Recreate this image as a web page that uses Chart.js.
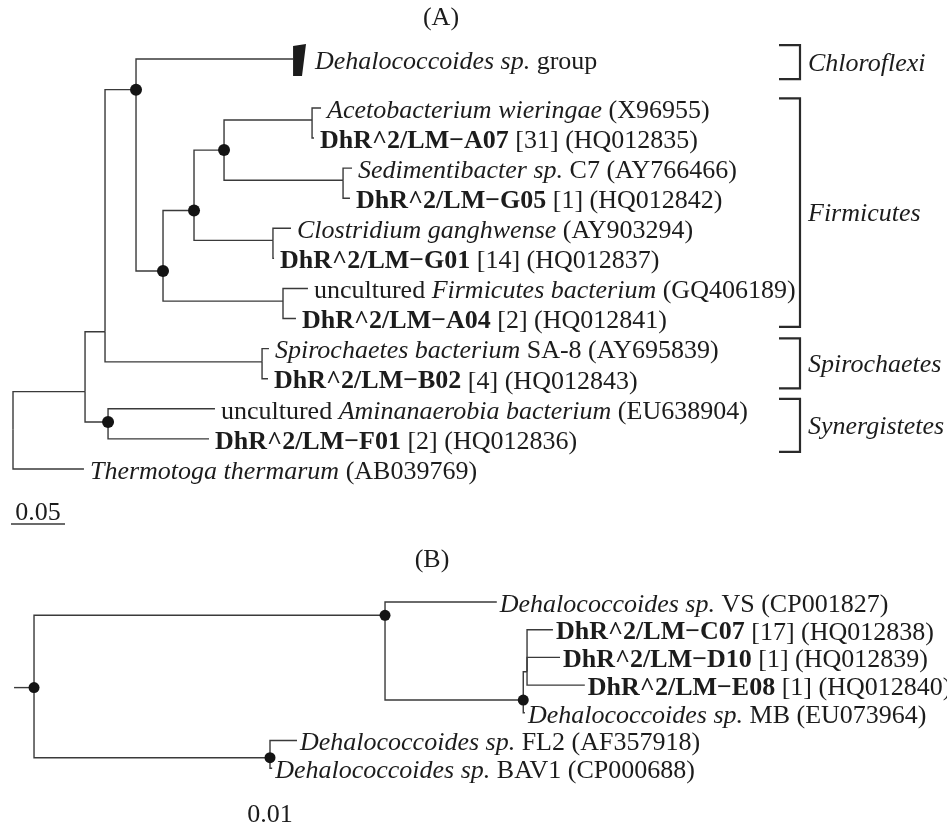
<!DOCTYPE html>
<html>
<head>
<meta charset="utf-8">
<script src="https://cdn.jsdelivr.net/npm/chart.js@4.4.1/dist/chart.umd.min.js"></script>
<style>
  body { margin: 0; background: #fff; }
  canvas { display: block; }
</style>
</head>
<body>
<canvas id="treeA" width="947" height="540"></canvas>
<canvas id="treeB" width="947" height="293"></canvas>
<script>
// ---------- Panel A data ----------
const aNodes  = ["root","N1","N2","N3","Dehalo","NF","NF1","NF2","pAce","Ace","A07","pSed","Sed","G05",
                 "pClo","Clo","G01","pFir","Fir","A04","pSpi","Spi","B02","Syn","Ami","F01","The"];
const aParent = [-1,0,1,2,3,3,5,6,7,8,8,7,11,11,6,14,14,5,17,17,2,20,20,1,23,23,0];
const aDepth  = [0,0.0667,0.0852,0.1139,0.2593,0.1389,0.1676,0.1954,0.2769,0.2852,0.2787,0.3056,0.3139,0.3120,
                 0.2407,0.2574,0.2417,0.25,0.2731,0.262,0.2306,0.237,0.2361,0.088,0.187,0.1815,0.0657];
const aRow    = [10.7,9.43,7.44,-0.61,-1.63,5.42,3.41,1.4,0.4,0,1,2.4,2,3,4.4,4,5,6.42,6,7,8.44,8,9,10.44,10,11,12];
const aDots   = ["N3","NF","NF1","NF2","Syn"];
const aLabels = {
  Dehalo: [["Dehalococcoides sp.","i"],[" group","r"]],
  Ace: [["Acetobacterium wieringae","i"],[" (X96955)","r"]],
  A07: [["DhR^2/LM\u2212A07","b"],[" [31] (HQ012835)","r"]],
  Sed: [["Sedimentibacter sp.","i"],[" C7 (AY766466)","r"]],
  G05: [["DhR^2/LM\u2212G05","b"],[" [1] (HQ012842)","r"]],
  Clo: [["Clostridium ganghwense","i"],[" (AY903294)","r"]],
  G01: [["DhR^2/LM\u2212G01","b"],[" [14] (HQ012837)","r"]],
  Fir: [["uncultured ","r"],["Firmicutes bacterium","i"],[" (GQ406189)","r"]],
  A04: [["DhR^2/LM\u2212A04","b"],[" [2] (HQ012841)","r"]],
  Spi: [["Spirochaetes bacterium","i"],[" SA-8 (AY695839)","r"]],
  B02: [["DhR^2/LM\u2212B02","b"],[" [4] (HQ012843)","r"]],
  Ami: [["uncultured ","r"],["Aminanaerobia bacterium","i"],[" (EU638904)","r"]],
  F01: [["DhR^2/LM\u2212F01","b"],[" [2] (HQ012836)","r"]],
  The: [["Thermotoga thermarum","i"],[" (AB039769)","r"]],
};
// collapsed Dehalococcoides clade (wedge): depth span and row span
const wedgeDepth = [0.2593, 0.2713, 0.2676];
const wedgeRows  = [-2.06, -1.06];
// clade brackets on the right
const cladeNames  = ["Chloroflexi","Firmicutes","Spirochaetes","Synergistetes"];
const cladeTop    = [-2.09, -0.32, 7.66, 9.67];
const cladeBottom = [-0.96, 7.28, 9.32, 11.43];
const scaleA = 0.05;

// ---------- Panel B data ----------
const bNodes  = ["root","U","VS","M","C","C07","D10","E08","MB","F","FL2","BAV1"];
const bParent = [-1,0,1,1,3,4,4,4,3,0,9,9];
const bDepth  = [0,0.065,0.0857,0.0906,0.0913,0.0961,0.0974,0.102,0.0909,0.0437,0.0487,0.0441];
const bRow    = [3.09,0.48,0,3.54,2.52,1,2,3,4,5.62,5,6];
const bDots   = ["root","U","M","F"];
const bRootStem = -0.0037;
const bLabels = {
  VS: [["Dehalococcoides sp.","i"],[" VS (CP001827)","r"]],
  C07: [["DhR^2/LM\u2212C07","b"],[" [17] (HQ012838)","r"]],
  D10: [["DhR^2/LM\u2212D10","b"],[" [1] (HQ012839)","r"]],
  E08: [["DhR^2/LM\u2212E08","b"],[" [1] (HQ012840)","r"]],
  MB: [["Dehalococcoides sp.","i"],[" MB (EU073964)","r"]],
  FL2: [["Dehalococcoides sp.","i"],[" FL2 (AF357918)","r"]],
  BAV1: [["Dehalococcoides sp.","i"],[" BAV1 (CP000688)","r"]],
};
const scaleB = 0.01;

// ---------- helpers ----------
const LINE = "#3a3a3a";
const INK = "#1c1c1c";
const FONT = "'Liberation Serif', 'Times New Roman', serif";
const fontFor = (s, size) =>
  (s === "i" ? "italic " : s === "b" ? "bold " : "") + size + "px " + FONT;

function branchDatasets(nodes, parent, depth, row) {
  const sets = [];
  nodes.forEach((n, i) => {
    const p = parent[i];
    if (p < 0) return;
    sets.push({
      data: [
        { x: depth[p], y: row[p] },
        { x: depth[p], y: row[i] },
        { x: depth[i], y: row[i] },
      ],
      showLine: true,
      borderColor: LINE,
      borderWidth: 1.4,
      pointRadius: 0,
      tension: 0,
    });
  });
  return sets;
}

function dotDataset(nodes, depth, row, dots, r) {
  return {
    data: dots.map((d) => {
      const i = nodes.indexOf(d);
      return { x: depth[i], y: row[i] };
    }),
    pointRadius: r,
    pointBackgroundColor: "#141414",
    pointBorderWidth: 0,
    showLine: false,
  };
}

function drawRich(ctx, segs, x, y, size) {
  ctx.textBaseline = "middle";
  ctx.textAlign = "left";
  for (const [t, s] of segs) {
    ctx.font = fontFor(s, size);
    ctx.fillText(t, x, y);
    x += ctx.measureText(t).width;
  }
}

function baseOptions(xmin, xmax, ymin, ymax) {
  return {
    responsive: false,
    animation: false,
    layout: { padding: 0, autoPadding: false },
    plugins: { legend: { display: false }, tooltip: { enabled: false } },
    scales: {
      x: { type: "linear", min: xmin, max: xmax, display: false },
      y: { type: "linear", min: ymin, max: ymax, reverse: true, display: false },
    },
  };
}

// ---------- Panel A chart ----------
new Chart(document.getElementById("treeA").getContext("2d"), {
  type: "scatter",
  data: {
    datasets: [
      dotDataset(aNodes, aDepth, aRow, aDots, 6),
      ...branchDatasets(aNodes, aParent, aDepth, aRow),
    ],
  },
  options: baseOptions(-0.01204, 0.86481, -3.59, 14.362),
  plugins: [
    {
      id: "labelsA",
      afterDraw(chart) {
        const { ctx } = chart;
        const xs = chart.scales.x, ys = chart.scales.y;
        ctx.save();
        ctx.fillStyle = INK;

        // collapsed clade wedge
        const x0 = xs.getPixelForValue(wedgeDepth[0]);
        const x1 = xs.getPixelForValue(wedgeDepth[1]);
        const x2 = xs.getPixelForValue(wedgeDepth[2]);
        const yt = ys.getPixelForValue(wedgeRows[0]);
        const yb = ys.getPixelForValue(wedgeRows[1]);
        ctx.beginPath();
        ctx.moveTo(x0, yt);
        ctx.lineTo(x1, yt - 2);
        ctx.lineTo(x2, yb);
        ctx.lineTo(x0, yb);
        ctx.closePath();
        ctx.fill();

        // leaf labels
        aNodes.forEach((n, i) => {
          if (!aLabels[n]) return;
          let x = xs.getPixelForValue(aDepth[i]) + 6;
          if (n === "Dehalo") x = x1 + 9;
          drawRich(ctx, aLabels[n], x, ys.getPixelForValue(aRow[i]) + 3, 26);
        });

        // clade brackets
        ctx.strokeStyle = "#2a2a2a";
        ctx.lineWidth = 2.2;
        cladeNames.forEach((c, k) => {
          const t = ys.getPixelForValue(cladeTop[k]);
          const b = ys.getPixelForValue(cladeBottom[k]);
          ctx.beginPath();
          ctx.moveTo(779, t);
          ctx.lineTo(800, t);
          ctx.lineTo(800, b);
          ctx.lineTo(779, b);
          ctx.stroke();
          drawRich(ctx, [[c, "i"]], 808, (t + b) / 2 + 2, 26);
        });

        // title
        ctx.font = fontFor("r", 26);
        ctx.textAlign = "center";
        ctx.fillText("(A)", 441, 18);

        // scale bar
        const s0 = xs.getPixelForValue(0) - 2;
        const s1 = s0 + xs.getPixelForValue(scaleA) - xs.getPixelForValue(0);
        ctx.fillText(scaleA.toFixed(2), (s0 + s1) / 2, 513);
        ctx.strokeStyle = LINE;
        ctx.lineWidth = 1.4;
        ctx.beginPath();
        ctx.moveTo(s0, 524);
        ctx.lineTo(s1, 524);
        ctx.stroke();
        ctx.restore();
      },
    },
  ],
});

// ---------- Panel B chart ----------
const rootIdx = bNodes.indexOf("root");
new Chart(document.getElementById("treeB").getContext("2d"), {
  type: "scatter",
  data: {
    datasets: [
      dotDataset(bNodes, bDepth, bRow, bDots, 5.5),
      ...branchDatasets(bNodes, bParent, bDepth, bRow),
      {
        data: [
          { x: bRootStem, y: bRow[rootIdx] },
          { x: bDepth[rootIdx], y: bRow[rootIdx] },
        ],
        showLine: true,
        borderColor: LINE,
        borderWidth: 1.4,
        pointRadius: 0,
      },
    ],
  },
  options: baseOptions(-0.0063, 0.16907, -2.238, 8.339),
  plugins: [
    {
      id: "labelsB",
      afterDraw(chart) {
        const { ctx } = chart;
        const xs = chart.scales.x, ys = chart.scales.y;
        ctx.save();
        ctx.fillStyle = INK;
        bNodes.forEach((n, i) => {
          if (!bLabels[n]) return;
          drawRich(ctx, bLabels[n], xs.getPixelForValue(bDepth[i]) + 3,
                   ys.getPixelForValue(bRow[i]) + 3, 26);
        });
        ctx.font = fontFor("r", 26);
        ctx.textAlign = "center";
        ctx.textBaseline = "middle";
        ctx.fillText("(B)", 432, 20);
        ctx.fillText(scaleB.toFixed(2), 270, 275);
        ctx.restore();
      },
    },
  ],
});
</script>
</body>
</html>
